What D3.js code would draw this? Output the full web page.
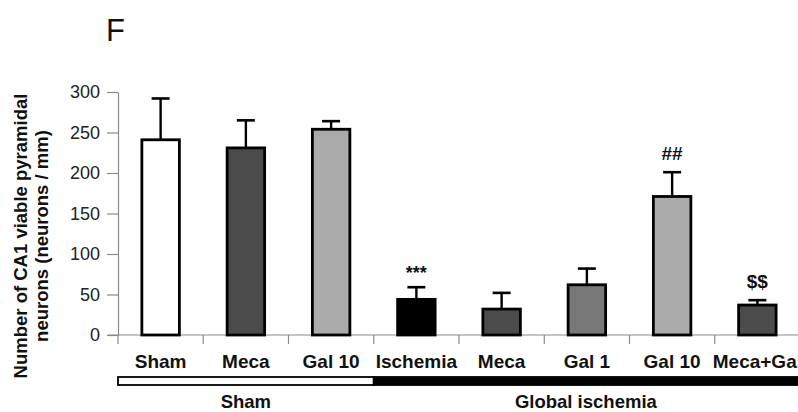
<!DOCTYPE html>
<html>
<head>
<meta charset="utf-8">
<script src="https://cdn.jsdelivr.net/npm/d3@7/dist/d3.min.js"></script>
<style>
  html, body { margin: 0; padding: 0; background: #fff; }
  svg { display: block; font-family: "Liberation Sans", Arial, sans-serif; }
</style>
</head>
<body>
<svg id="chart" width="798" height="412"></svg>
<script>
// ---- data ----
const categories = ["Sham", "Meca", "Gal 10", "Ischemia", "Meca", "Gal 1", "Gal 10", "Meca+Gal"];
const means = [241, 231, 254, 44, 32, 62, 171, 37];
const sems = [51, 34, 10, 15, 20, 20, 30, 6];
const fills = ["#ffffff", "#4b4b4b", "#aaaaaa", "#000000", "#4b4b4b", "#787878", "#aaaaaa", "#4b4b4b"];
const marks = ["", "", "", "***", "", "", "##", "$$"];
const yTicks = [0, 50, 100, 150, 200, 250, 300];
const groups = [
  { label: "Sham", from: 0, to: 2, fill: "#ffffff" },
  { label: "Global ischemia", from: 3, to: 7, fill: "#000000" }
];

const svg = d3.select("#chart");
const idx = categories.map((d, i) => i);

const x = d3.scaleBand().domain(idx).range([118, 800]).paddingInner(0.56).paddingOuter(0.28);
const y = d3.scaleLinear().domain([0, 300]).range([335, 92]);
const step = x.step();
const left = i => x(i) + x.bandwidth() / 2 - step / 2;

// title
svg.append("text").attr("x", 106).attr("y", 41).attr("font-size", 31).attr("fill", "#111").text("F");

// y axis
const yAxis = svg.append("g").attr("transform", "translate(118,0)")
  .call(d3.axisLeft(y).tickValues(yTicks).tickSize(11).tickPadding(7).tickSizeOuter(0));
yAxis.select(".domain").attr("stroke", "#8a8a8a").attr("stroke-width", 1.2);
yAxis.selectAll(".tick line").attr("stroke", "#8a8a8a").attr("stroke-width", 1.2);
yAxis.selectAll(".tick text").attr("font-size", 18).attr("fill", "#222")
  .attr("font-family", "'Liberation Sans', Arial, sans-serif");

// x axis line
svg.append("line").attr("x1", 108).attr("x2", 800).attr("y1", y(0)).attr("y2", y(0))
  .attr("stroke", "#8a8a8a").attr("stroke-width", 1.2);
// category ticks
svg.selectAll(".xt").data(idx).join("line").attr("class", "xt")
  .attr("x1", d => left(d)).attr("x2", d => left(d))
  .attr("y1", y(0)).attr("y2", y(0) + 9)
  .attr("stroke", "#8a8a8a").attr("stroke-width", 1.2);

// bars
svg.selectAll(".bar").data(idx).join("rect").attr("class", "bar")
  .attr("x", d => x(d)).attr("width", x.bandwidth())
  .attr("y", d => y(means[d])).attr("height", d => y(0) - y(means[d]))
  .attr("fill", d => fills[d]).attr("stroke", "#000").attr("stroke-width", 2.8);

// error bars
const cx = d => x(d) + x.bandwidth() / 2;
svg.selectAll(".err").data(idx).join("line").attr("class", "err")
  .attr("x1", cx).attr("x2", cx)
  .attr("y1", d => y(means[d])).attr("y2", d => y(means[d] + sems[d]))
  .attr("stroke", "#000").attr("stroke-width", 2.4);
svg.selectAll(".cap").data(idx).join("line").attr("class", "cap")
  .attr("x1", d => cx(d) - 9).attr("x2", d => cx(d) + 9)
  .attr("y1", d => y(means[d] + sems[d])).attr("y2", d => y(means[d] + sems[d]))
  .attr("stroke", "#000").attr("stroke-width", 2.6);

// significance marks
svg.selectAll(".mark").data(idx.filter(d => marks[d])).join("text").attr("class", "mark")
  .attr("x", cx).attr("y", d => y(means[d] + sems[d]) - (marks[d] === "***" ? 8 : 12))
  .attr("text-anchor", "middle").attr("font-weight", "bold")
  .attr("font-size", d => marks[d] === "***" ? 18 : 19).attr("fill", "#111")
  .text(d => marks[d]);

// category labels
svg.selectAll(".cl").data(idx).join("text").attr("class", "cl")
  .attr("x", cx).attr("y", 368).attr("text-anchor", "middle")
  .attr("font-weight", "bold").attr("font-size", 19).attr("fill", "#111")
  .text(d => categories[d]);

// group bars
svg.selectAll(".gb").data(groups).join("rect").attr("class", "gb")
  .attr("x", g => left(g.from)).attr("width", g => Math.min(left(g.to) + step, 806) - left(g.from))
  .attr("y", 377).attr("height", 8)
  .attr("fill", g => g.fill).attr("stroke", "#000").attr("stroke-width", 1.8);
svg.selectAll(".gl").data(groups).join("text").attr("class", "gl")
  .attr("x", g => (left(g.from) + Math.min(left(g.to) + step, 798)) / 2).attr("y", 408)
  .attr("text-anchor", "middle").attr("font-weight", "bold").attr("font-size", 18.5).attr("fill", "#111")
  .text(g => g.label);

// y axis title
const yt = svg.append("text").attr("transform", "translate(0,236) rotate(-90)")
  .attr("text-anchor", "middle").attr("font-weight", "bold").attr("font-size", 18.5).attr("fill", "#111");
yt.append("tspan").attr("x", 0).attr("y", 27).text("Number of CA1 viable pyramidal");
yt.append("tspan").attr("x", 0).attr("y", 48).text("neurons (neurons / mm)");
</script>
</body>
</html>
